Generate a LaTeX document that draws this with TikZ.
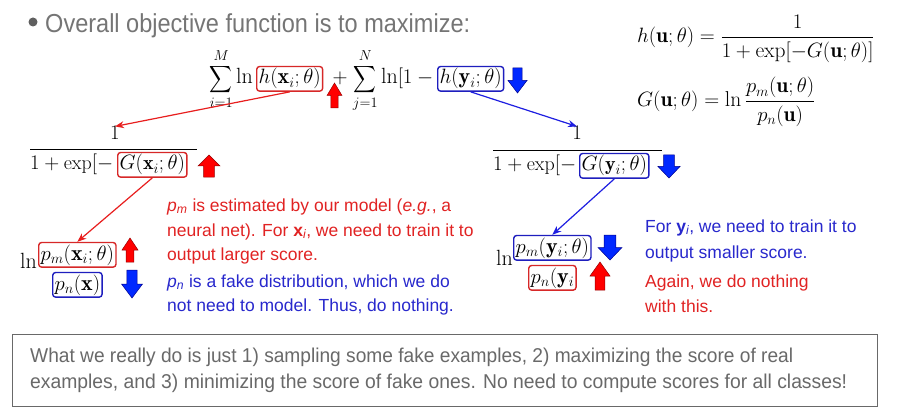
\documentclass[tikz,border=0pt]{standalone}
\usepackage{fontspec}
\usepackage{amsmath}
\usepackage{graphicx}
\usetikzlibrary{arrows.meta}
\newfontfamily\sansf{Liberation Sans}
\definecolor{titlegray}{RGB}{117,117,117}
\definecolor{bulletgray}{RGB}{95,95,95}
\definecolor{notegray}{RGB}{105,105,105}
\definecolor{txtred}{RGB}{225,35,35}
\definecolor{txtblue}{RGB}{40,40,205}
\definecolor{boxred}{RGB}{215,40,40}
\definecolor{boxblue}{RGB}{30,30,190}
\definecolor{connred}{RGB}{232,30,30}
\definecolor{connblue}{RGB}{30,30,225}
\definecolor{arrred}{RGB}{255,0,0}
\definecolor{arrredd}{RGB}{150,0,0}
\definecolor{arrblue}{RGB}{0,40,255}
\definecolor{arrblued}{RGB}{0,0,140}
\newcommand\narrowsum{\mathop{\scalebox{0.76}[0.9]{$\displaystyle\sum$}}\limits}
\tikzset{
  mth/.style={font=\fontsize{20}{24}\selectfont, inner sep=0pt},
  bigmth/.style={font=\fontsize{22}{26}\selectfont, inner sep=0pt},
  defmth/.style={font=\fontsize{21.5}{26}\selectfont, inner sep=0pt},
  rbox/.style={draw=boxred, line width=1.4pt, rounded corners=3pt, inner sep=2pt, font=\fontsize{20}{24}\selectfont},
  bbox/.style={draw=boxblue, line width=1.4pt, rounded corners=3pt, inner sep=2pt, font=\fontsize{20}{24}\selectfont},
  big/.style={font=\fontsize{22}{26}\selectfont},
  rtext/.style={font=\sansf\fontsize{17.5}{20}\selectfont, text=txtred, anchor=base west, inner sep=0pt},
  btext/.style={font=\sansf\fontsize{17.5}{20}\selectfont, text=txtblue, anchor=base west, inner sep=0pt},
  rconn/.style={draw=connred, line width=1.2pt, -{Stealth[length=9pt,width=7pt]}},
  bconn/.style={draw=connblue, line width=1.2pt, -{Stealth[length=9pt,width=7pt]}},
  fracbar/.style={line width=0.8pt},
  pics/redup/.style={code={\filldraw[fill=arrred, draw=arrredd, line width=0.5pt]
    (0,-0.5)--(0.5,0)--(0.24,0)--(0.24,0.5)--(-0.24,0.5)--(-0.24,0)--(-0.5,0)--cycle;}},
  pics/bluedown/.style={code={\filldraw[fill=arrblue, draw=arrblued, line width=0.5pt]
    (0,-0.5)--(0.5,0)--(0.24,0)--(0.24,0.5)--(-0.24,0.5)--(-0.24,0)--(-0.5,0)--cycle;}},
}
\begin{document}
\begin{tikzpicture}[x=1pt,y=-1pt]
\useasboundingbox (0,0) rectangle (897,417);
\fill[white] (0,0) rectangle (897,417);

% title
\node[circle, fill=bulletgray, inner sep=0pt, minimum size=9pt] (bullet) at (33,22) {};
\node[anchor=base west, inner sep=0pt, text=titlegray] (title) at (45,33)
  {\resizebox{425pt}{\height}{\sansf\fontsize{26}{30}\selectfont Overall objective function is to maximize:}};

% right definitions
\node[defmth, anchor=base west] (hdef) at (637,43)
  {$\displaystyle h(\mathbf{u};\theta)=\frac{1}{1+\exp[-G(\mathbf{u};\theta)]}$};
\node[defmth, anchor=base west] (gdef) at (637,107)
  {$\displaystyle G(\mathbf{u};\theta)=\ln\frac{p_m(\mathbf{u};\theta)}{p_n(\mathbf{u})}$};

% main objective
\node[bigmth, anchor=base east] (s1) at (253,84) {$\displaystyle\narrowsum_{i=1}^{M}\ln$};
\node[rbox, big, anchor=base west] (hx) at (256,84) {$h(\mathbf{x}_i;\theta)$};
\node[bigmth, anchor=base] (plus) at (340,84) {$+$};
\node[bigmth, anchor=base east] (s2) at (438,84) {$\displaystyle\narrowsum_{j=1}^{N}\ln[1-{}$};
\node[bbox, big, anchor=base west] (hy) at (437,84) {$h(\mathbf{y}_i;\theta)$};

% left fraction
\node[mth, anchor=base] (n1) at (115,140) {$1$};
\draw[fracbar] (30,149) -- (197,149);
\node[mth, anchor=base west] (d1) at (30,170) {$1+\exp[-$};
\node[rbox, anchor=base west] (gx) at (117,170) {$G(\mathbf{x}_i;\theta)$};

% right fraction
\node[mth, anchor=base] (n2) at (577,140) {$1$};
\draw[fracbar] (493,150) -- (662,150);
\node[mth, anchor=base west] (d2) at (493,171) {$1+\exp[-$};
\node[bbox, anchor=base west] (gy) at (579,171) {$G(\mathbf{y}_i;\theta)$};

% left log ratio
\node[bigmth, anchor=base west] (ln1) at (20,268) {$\ln$};
\node[rbox, big, anchor=base west] (pmx) at (38,260) {$p_m(\mathbf{x}_i;\theta)$};
\node[bbox, big, anchor=base west] (pnx) at (52,290) {$p_n(\mathbf{x})$};

% right log ratio
\node[bigmth, anchor=base west] (ln2) at (496,265) {$\ln$};
\node[bbox, big, anchor=base west] (pmy) at (513,253) {$p_m(\mathbf{y}_i;\theta)$};
\node[rbox, big, anchor=base west] (pny) at (528,283) {$p_n(\mathbf{y}_i$};

% block arrows
\pic[xscale=15, yscale=25] at (334.5,95.5) {redup};
\pic[xscale=19, yscale=-25] at (517.5,80.5) {bluedown};
\pic[xscale=22, yscale=22] at (209,166) {redup};
\pic[xscale=22, yscale=-23] at (669,166.5) {bluedown};
\pic[xscale=16, yscale=24] at (130,250) {redup};
\pic[xscale=21, yscale=-28] at (132,284) {bluedown};
\pic[xscale=24, yscale=-25] at (610,247.5) {bluedown};
\pic[xscale=20, yscale=28] at (600,276) {redup};

% connectors
\draw[rconn] (hx.south) -- (n1.north);
\draw[bconn] (hy.south) -- (n2.north);
\draw[rconn] (gx.south) -- (pmx.north);
\draw[bconn] (gy.south) -- (pmy.north);

% explanations left
\node[rtext] (tl1) at (167,211) {{\itshape p}\textsubscript{\itshape m} is estimated by our model ({\itshape e.g.}, a};
\node[rtext] (tl2) at (167,236) {neural net). For \textbf{x}\textsubscript{\itshape i}, we need to train it to};
\node[rtext] (tl3) at (167,260) {output larger score.};
\node[btext] (tl4) at (167,287) {{\itshape p}\textsubscript{\itshape n} is a fake distribution, which we do};
\node[btext] (tl5) at (167,311) {not need to model. Thus, do nothing.};

% explanations right
\node[btext] (tr1) at (645,232) {For \textbf{y}\textsubscript{\itshape i}, we need to train it to};
\node[btext] (tr2) at (645,258) {output smaller score.};
\node[rtext] (tr3) at (645,287) {Again, we do nothing};
\node[rtext] (tr4) at (645,312) {with this.};

% bottom note
\node[draw=notegray, line width=1pt, minimum width=865pt, minimum height=72pt, anchor=north west, inner sep=0pt] (notebox) at (12,334) {};
\node[anchor=base west, inner sep=0pt, text=notegray] (note1) at (30,362)
  {\resizebox{763pt}{\height}{\sansf\fontsize{20}{24}\selectfont What we really do is just 1) sampling some fake examples, 2) maximizing the score of real}};
\node[anchor=base west, inner sep=0pt, text=notegray] (note2) at (30,388)
  {\resizebox{817pt}{\height}{\sansf\fontsize{20}{24}\selectfont examples, and 3) minimizing the score of fake ones. No need to compute scores for all classes!}};
\end{tikzpicture}
\end{document}
